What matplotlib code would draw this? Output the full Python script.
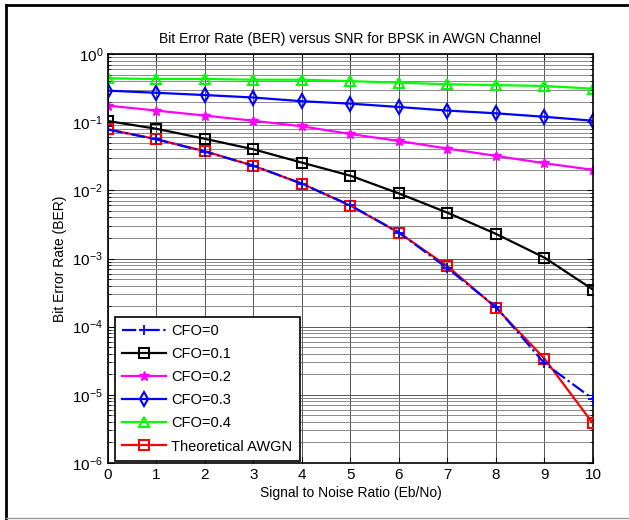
# BER vs SNR for BPSK with carrier frequency offset
import matplotlib.pyplot as plt
import matplotlib.lines as mlines
from matplotlib.ticker import LogLocator, NullFormatter

snr = [0, 1, 2, 3, 4, 5, 6, 7, 8, 9, 10]

ber_cfo0 = [0.078, 0.056, 0.037, 0.023, 0.0125, 0.0060, 0.0024, 0.00072, 0.000195, 2.9e-5, 8.7e-6]
ber_cfo1 = [0.104, 0.080, 0.057, 0.040, 0.0255, 0.0164, 0.0090, 0.0047, 0.0023, 0.00103, 0.00035]
ber_cfo2 = [0.175, 0.148, 0.125, 0.105, 0.087, 0.067, 0.053, 0.041, 0.032, 0.025, 0.020]
ber_cfo3 = [0.29, 0.27, 0.25, 0.23, 0.203, 0.187, 0.167, 0.148, 0.135, 0.12, 0.105]
ber_cfo4 = [0.44, 0.43, 0.43, 0.42, 0.42, 0.40, 0.38, 0.36, 0.35, 0.34, 0.31]
ber_theory = [0.0786, 0.0563, 0.0375, 0.0229, 0.0125, 0.00595, 0.00239, 0.00077, 0.00019, 3.4e-5, 3.8e-6]

labels = ['CFO=0', 'CFO=0.1', 'CFO=0.2', 'CFO=0.3', 'CFO=0.4', 'Theoretical AWGN']
yticks = [1e-6, 1e-5, 1e-4, 1e-3, 1e-2, 1e-1, 1e0]

plt.rcParams['font.family'] = ['Liberation Sans', 'DejaVu Sans']
plt.rcParams['mathtext.fontset'] = 'custom'
plt.rcParams['mathtext.rm'] = 'Liberation Sans'
plt.rcParams['mathtext.it'] = 'Liberation Sans'
plt.rcParams['mathtext.default'] = 'regular'

fig = plt.figure(figsize=(6.29, 5.2), dpi=100)
ax = fig.add_axes([0.1717, 0.1096, 0.771, 0.7865])

lw = 1.6
ax.semilogy(snr, ber_cfo0, '-.+', color='#0000ff', lw=lw, ms=7, mew=1.3, label=labels[0], zorder=4)
ax.semilogy(snr, ber_cfo1, '-s', color='black', lw=lw, ms=6.5, mew=1.5, mfc='none', label=labels[1])
ax.semilogy(snr, ber_cfo2, '-*', color='#ff00ff', lw=lw, ms=7, mew=1.0, label=labels[2])
ax.semilogy(snr, ber_cfo3, '-d', color='#0000ff', lw=lw, ms=7, mew=1.5, mfc='none', label=labels[3])
ax.semilogy(snr, ber_cfo4, '-^', color='#00ff00', lw=lw, ms=7.5, mew=1.5, mfc='none', label=labels[4])
ax.semilogy(snr, ber_theory, '-s', color='#ff0000', lw=lw, ms=6.5, mew=1.5, mfc='none', label=labels[5], zorder=3)

ax.set_xlim(0, 10)
ax.set_ylim(1e-6, 1)
ax.set_xticks(snr)
ax.set_yticks(yticks)
ax.yaxis.set_minor_locator(LogLocator(base=10, subs=range(2, 10), numticks=20))
ax.yaxis.set_minor_formatter(NullFormatter())

# matlab style grid
ax.grid(True, which='major', color='#555555', lw=0.7)
ax.grid(True, which='minor', axis='y', color='#777777', lw=0.6)
ax.set_axisbelow(True)

ax.tick_params(which='both', direction='in', top=True, right=True, labelsize=11)
ax.tick_params(which='major', length=4)
ax.tick_params(which='minor', length=2.5)
for s in ax.spines.values():
    s.set_linewidth(1.2)

ax.set_title('Bit Error Rate (BER) versus SNR for BPSK in AWGN Channel', fontsize=10, pad=8)
ax.set_xlabel('Signal to Noise Ratio (Eb/No)', fontsize=10, labelpad=3)
ax.set_ylabel('Bit Error Rate (BER)', fontsize=10, labelpad=4)

leg = ax.legend(loc='lower left', bbox_to_anchor=(0.01, 0.0), fontsize=10.5, frameon=True,
                fancybox=False, edgecolor='black', framealpha=1, borderpad=0.5,
                labelspacing=0.62, handlelength=3.0, handletextpad=0.35, borderaxespad=0.15)
leg.get_frame().set_linewidth(1.2)

# figure border
fig.add_artist(mlines.Line2D([0.0095, 1.0], [0.990, 0.990], color='black', lw=2, transform=fig.transFigure))
fig.add_artist(mlines.Line2D([0.0095, 0.0095], [0.0, 0.990], color='black', lw=2, transform=fig.transFigure))
fig.add_artist(mlines.Line2D([0.0095, 1.0], [0.003, 0.003], color='#999999', lw=1, transform=fig.transFigure))

fig.savefig('out.png', dpi=100)
